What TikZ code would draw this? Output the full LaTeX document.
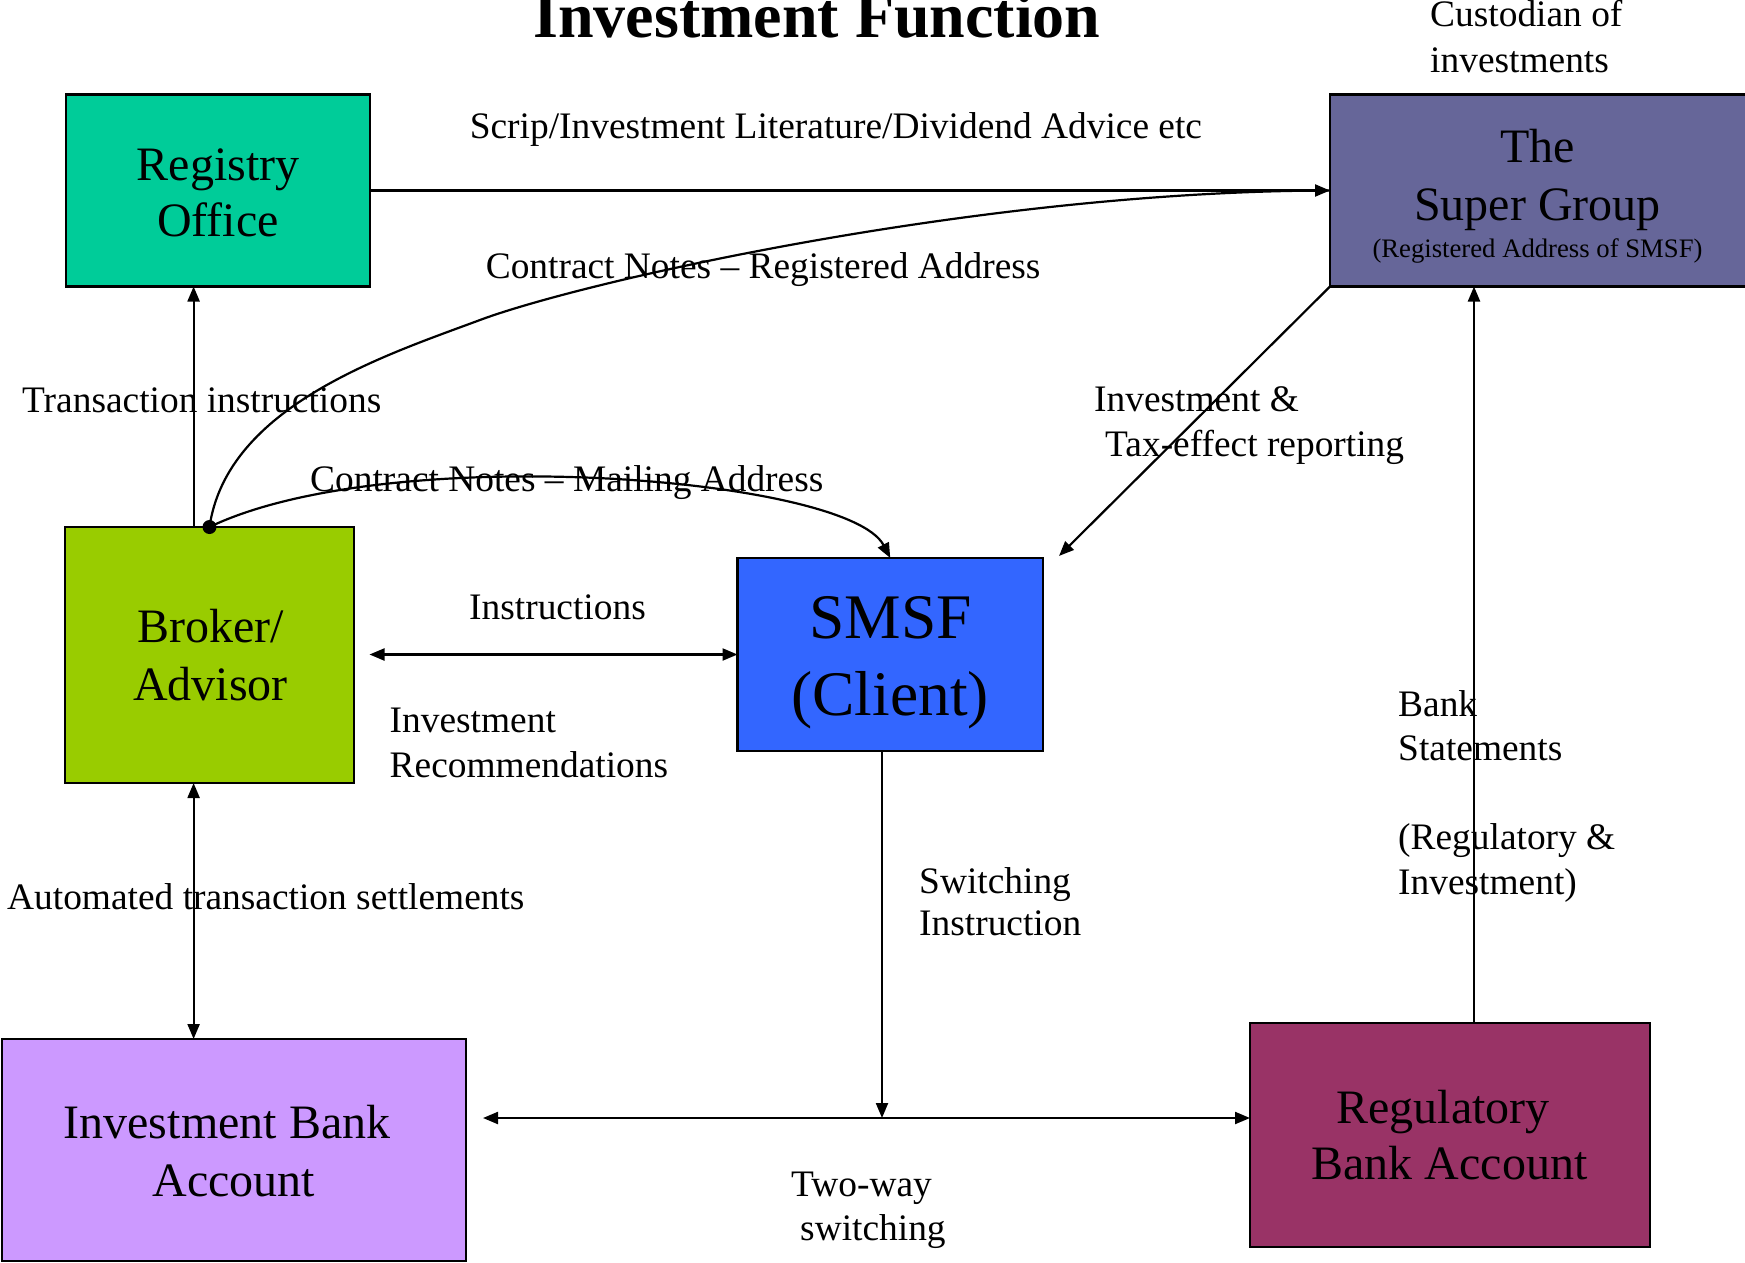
\documentclass[tikz,border=0pt]{standalone}
\usepackage{fontspec}
\setmainfont{Liberation Serif}
\usetikzlibrary{arrows.meta}
\definecolor{regc}{HTML}{00CC99}
\definecolor{sgc}{HTML}{666699}
\definecolor{brc}{HTML}{99CC00}
\definecolor{smc}{HTML}{3366FF}
\definecolor{ibc}{HTML}{CC99FF}
\definecolor{rbc}{HTML}{993366}
\begin{document}
\begin{tikzpicture}[x=1pt,y=-1pt,
  >={Triangle[length=15pt,width=12pt]},
  box/.style={draw=black, line width=2.6pt, inner sep=0pt, outer sep=0pt, rectangle},
  conn/.style={line width=2.2pt, black},
  lbl/.style={font=\fontsize{37.4}{43}\selectfont, inner sep=0pt, anchor=base west},
  bt/.style={font=\fontsize{48}{57}\selectfont, inner sep=0pt, anchor=base},
  bigt/.style={font=\fontsize{63.5}{76}\selectfont, inner sep=0pt, anchor=base},
  dotnode/.style={circle, fill=black, inner sep=0pt, minimum size=14pt}
]
\useasboundingbox (0,0) rectangle (1745,1263);
\fill[white] (0,0) rectangle (1745,1263);

% boxes
\node[box, fill=regc, minimum width=304pt, minimum height=192pt] (reg) at (218,190.5) {};
\node[box, fill=sgc, minimum width=430pt, minimum height=192pt] (sg) at (1545,190.5) {};
\node[box, fill=brc, minimum width=289pt, minimum height=256pt] (broker) at (209.5,655) {};
\node[box, fill=smc, minimum width=305.5pt, minimum height=193pt] (smsf) at (890.25,654.5) {};
\node[box, fill=ibc, minimum width=464pt, minimum height=222pt] (ibank) at (234,1150) {};
\node[box, fill=rbc, minimum width=400pt, minimum height=224pt] (rbank) at (1450,1135) {};

% box texts
\node[bt] (regt1) at (218,180) {Registry};
\node[bt] (regt2) at (218,236) {Office};
\node[bt] (sgt1) at (1537.5,162) {The};
\node[bt] (sgt2) at (1537.5,220) {Super Group};
\node[font=\fontsize{26.7}{31}\selectfont, inner sep=0pt, anchor=base] (sgt3) at (1537.5,257) {(Registered Address of SMSF)};
\node[bt] (brt1) at (210.5,642.6) {Broker/};
\node[bt] (brt2) at (210.5,700.5) {Advisor};
\node[bigt] (smt1) at (890.5,638.7) {SMSF};
\node[bigt] (smt2) at (890,715.6) {(Client)};
\node[bt] (ibt1) at (227,1138.4) {Investment Bank};
\node[bt] (ibt2) at (234,1196) {Account};
\node[bt] (rbt1) at (1443,1123) {Regulatory};
\node[bt] (rbt2) at (1449.6,1179) {Bank Account};

% title
\node[font=\fontsize{64}{70}\bfseries\selectfont, inner sep=0pt, anchor=base] (title) at (817,37.3) {Investment Function};

% coordinates
\coordinate (bx) at (193.6,0);
\coordinate (cm) at (480,320);
\coordinate (il) at (369.5,654.5);
\coordinate (st) at (1059,556);
\coordinate (sx) at (882,0);
\coordinate (hy) at (0,1118);
\coordinate (hl) at (483,1118);
\coordinate (rx) at (1474,0);

% connectors
\draw[conn,->] (reg.east) -- (sg.west);
\draw[conn,->] (bx |- broker.north) -- (bx |- reg.south);
\draw[conn,<->] (bx |- broker.south) -- (bx |- ibank.north);
\node[dotnode] (dot) at (broker.north) {};
\draw[conn] (dot.center) .. controls (227,406) and (386,355) .. (cm)
  .. controls (583,281.5) and (980,191) .. (sg.west);
\draw[conn,->] (dot.center) .. controls (389,440.7) and (848,477) .. (smsf.north);
\draw[conn,<->] (il) -- (smsf.west);
\draw[conn,->] (sg.south west) -- (st);
\draw[conn,->] (sx |- smsf.south) -- (sx |- hy);
\draw[conn,<->] (hl) -- (hl -| rbank.west);
\draw[conn,->] (rx |- rbank.north) -- (rx |- sg.south);

% labels
\node[lbl] (l1) at (1430,27) {Custodian of};
\node[lbl] (l2) at (1430,72) {investments};
\node[lbl] (l3) at (469.6,138) {Scrip/Investment Literature/Dividend Advice etc};
\node[lbl] (l4) at (485.6,278) {Contract Notes \textendash{} Registered Address};
\node[lbl] (l5) at (22,412) {Transaction instructions};
\node[lbl] (l6) at (310,491) {Contract Notes \textendash{} Mailing Address};
\node[lbl] (l7) at (1094,411) {Investment \&};
\node[lbl] (l8) at (1105,456) {Tax-effect reporting};
\node[lbl] (l9) at (469,619) {Instructions};
\node[lbl] (l10) at (389.5,732.6) {Investment};
\node[lbl] (l11) at (389.5,777) {Recommendations};
\node[lbl] (l12) at (7,909) {Automated transaction settlements};
\node[lbl] (l13) at (919,893) {Switching};
\node[lbl] (l14) at (919,935.5) {Instruction};
\node[lbl] (l15) at (791,1196) {Two-way};
\node[lbl] (l16) at (800,1240) {switching};
\node[lbl] (l17) at (1398,716.5) {Bank};
\node[lbl] (l18) at (1398,760) {Statements};
\node[lbl] (l19) at (1398,849) {(Regulatory \&};
\node[lbl] (l20) at (1398,894) {Investment)};
\end{tikzpicture}
\end{document}
